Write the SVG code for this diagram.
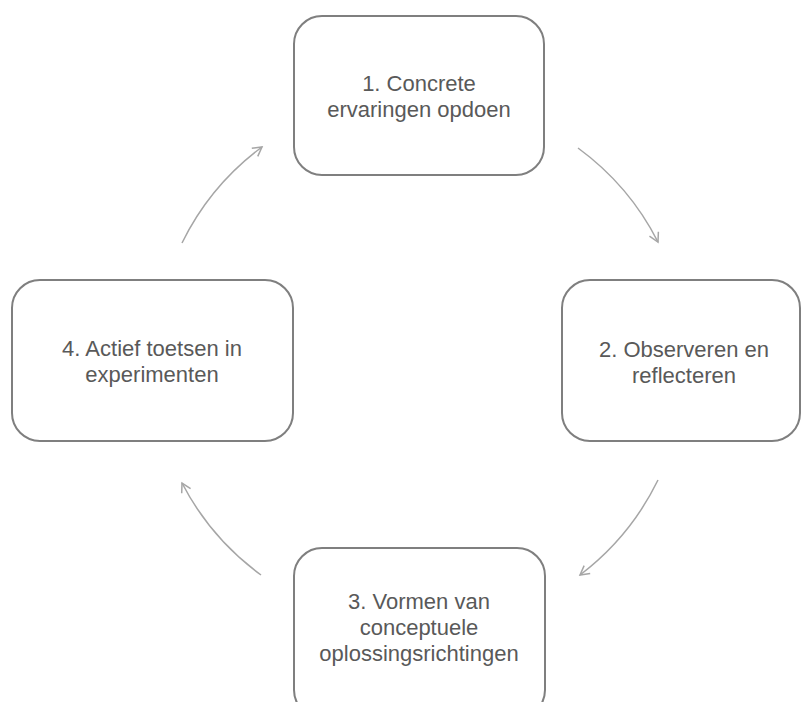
<svg xmlns="http://www.w3.org/2000/svg" width="802" height="702" viewBox="0 0 802 702">
<defs>
<style>
.box{fill:#ffffff;stroke:#7f7f7f;stroke-width:2}
.lbl{font-family:"Liberation Sans",Arial,sans-serif;font-size:22px;fill:#595959;text-anchor:middle}
.arc{fill:none;stroke:#a6a6a6;stroke-width:1.5}
</style>
<marker id="ah" viewBox="0 0 12 12" refX="10" refY="6" markerWidth="12" markerHeight="12" markerUnits="userSpaceOnUse" orient="auto">
<path d="M1,1 L10,6 L1,11" fill="none" stroke="#a6a6a6" stroke-width="1.5"/>
</marker>
</defs>
<rect width="802" height="702" fill="#ffffff"/>
<g id="connectors">
<path class="arc" d="M578,148 A265,265 0 0 1 658,242" marker-end="url(#ah)"/>
<path class="arc" d="M658,480 A265,265 0 0 1 580,575" marker-end="url(#ah)"/>
<path class="arc" d="M261,575 A265,265 0 0 1 182,483" marker-end="url(#ah)"/>
<path class="arc" d="M182,243 A265,265 0 0 1 262,147" marker-end="url(#ah)"/>
</g>
<g id="node1">
<rect class="box" x="294" y="16" width="250" height="159" rx="28" ry="28"/>
<text class="lbl" x="419" y="91">1. Concrete</text>
<text class="lbl" x="419" y="117">ervaringen opdoen</text>
</g>
<g id="node2">
<rect class="box" x="562" y="280" width="238" height="161" rx="28" ry="28"/>
<text class="lbl" x="684" y="357">2. Observeren en</text>
<text class="lbl" x="684" y="383">reflecteren</text>
</g>
<g id="node3">
<rect class="box" x="294" y="548" width="251" height="170" rx="28" ry="28"/>
<text class="lbl" x="419" y="609">3. Vormen van</text>
<text class="lbl" x="419" y="635">conceptuele</text>
<text class="lbl" x="419" y="661">oplossingsrichtingen</text>
</g>
<g id="node4">
<rect class="box" x="12" y="280" width="281" height="161" rx="28" ry="28"/>
<text class="lbl" x="152" y="356">4. Actief toetsen in</text>
<text class="lbl" x="152" y="382">experimenten</text>
</g>
</svg>
